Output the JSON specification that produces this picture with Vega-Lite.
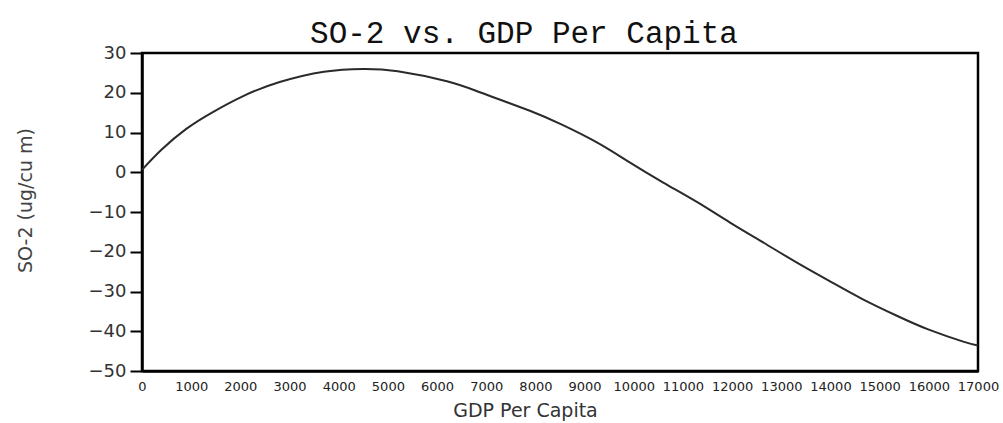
{
  "$schema": "https://vega.github.io/schema/vega-lite/v6.json",
  "autosize": {"type": "none"},
  "padding": {"left": 142, "top": 53, "right": 25, "bottom": 52},
  "width": 836,
  "height": 318,
  "background": "white",
  "title": {
    "text": "SO-2 vs. GDP Per Capita",
    "font": "Liberation Mono",
    "fontSize": 31,
    "fontWeight": "normal",
    "color": "#111",
    "anchor": "middle",
    "dx": -36,
    "dy": 40,
    "baseline": "alphabetic",
    "offset": 10
  },
  "data": {
    "values": [
      {"gdp": 0, "so2": 0.6},
      {"gdp": 400, "so2": 5.7},
      {"gdp": 900, "so2": 10.9},
      {"gdp": 1450, "so2": 15.2},
      {"gdp": 2100, "so2": 19.4},
      {"gdp": 2800, "so2": 22.7},
      {"gdp": 3700, "so2": 25.3},
      {"gdp": 4500, "so2": 26.0},
      {"gdp": 5200, "so2": 25.4},
      {"gdp": 6200, "so2": 22.9},
      {"gdp": 6900, "so2": 20.0},
      {"gdp": 7900, "so2": 15.4},
      {"gdp": 8550, "so2": 11.9},
      {"gdp": 9250, "so2": 7.5},
      {"gdp": 9900, "so2": 2.6},
      {"gdp": 10600, "so2": -2.6},
      {"gdp": 11300, "so2": -7.6},
      {"gdp": 11950, "so2": -12.6},
      {"gdp": 12650, "so2": -17.8},
      {"gdp": 13300, "so2": -22.6},
      {"gdp": 14000, "so2": -27.5},
      {"gdp": 14650, "so2": -31.9},
      {"gdp": 15350, "so2": -36.1},
      {"gdp": 16000, "so2": -39.6},
      {"gdp": 16700, "so2": -42.6},
      {"gdp": 17000, "so2": -43.6}
    ]
  },
  "mark": {"type": "line", "interpolate": "natural", "color": "#2a2a2a", "strokeWidth": 2},
  "encoding": {
    "x": {
      "field": "gdp",
      "type": "quantitative",
      "scale": {"domain": [0, 17000], "nice": false, "zero": false},
      "axis": {
        "title": "GDP Per Capita",
        "values": [0,1000,2000,3000,4000,5000,6000,7000,8000,9000,10000,11000,12000,13000,14000,15000,16000,17000],
        "format": "d",
        "grid": false,
        "ticks": false,
        "labelOverlap": false,
        "labelFlush": false,
        "labelFont": "DejaVu Sans",
        "labelFontSize": 13,
        "labelColor": "#222",
        "labelPadding": 9,
        "domainColor": "black",
        "domainWidth": 2.5,
        "titleFont": "DejaVu Sans",
        "titleFontSize": 19,
        "titleFontWeight": "normal",
        "titleColor": "#333",
        "titleX": 383,
        "titleY": 39,
        "titleAlign": "center",
        "titleBaseline": "middle"
      }
    },
    "y": {
      "field": "so2",
      "type": "quantitative",
      "scale": {"domain": [-50, 30], "nice": false, "zero": false},
      "axis": {
        "title": "SO-2 (ug/cu m)",
        "values": [-50,-40,-30,-20,-10,0,10,20,30],
        "grid": false,
        "tickSize": 12,
        "tickWidth": 2,
        "tickColor": "black",
        "labelFont": "DejaVu Sans",
        "labelFontSize": 18,
        "labelColor": "#333",
        "labelPadding": 4,
        "domainColor": "black",
        "domainWidth": 2.5,
        "titleFont": "DejaVu Sans",
        "titleFontSize": 19,
        "titleFontWeight": "normal",
        "titleColor": "#444",
        "titleAngle": 270,
        "titleX": -117,
        "titleY": 147,
        "titleAlign": "center",
        "titleBaseline": "middle"
      }
    }
  },
  "config": {
    "view": {"stroke": "black", "strokeWidth": 2.5}
  }
}
